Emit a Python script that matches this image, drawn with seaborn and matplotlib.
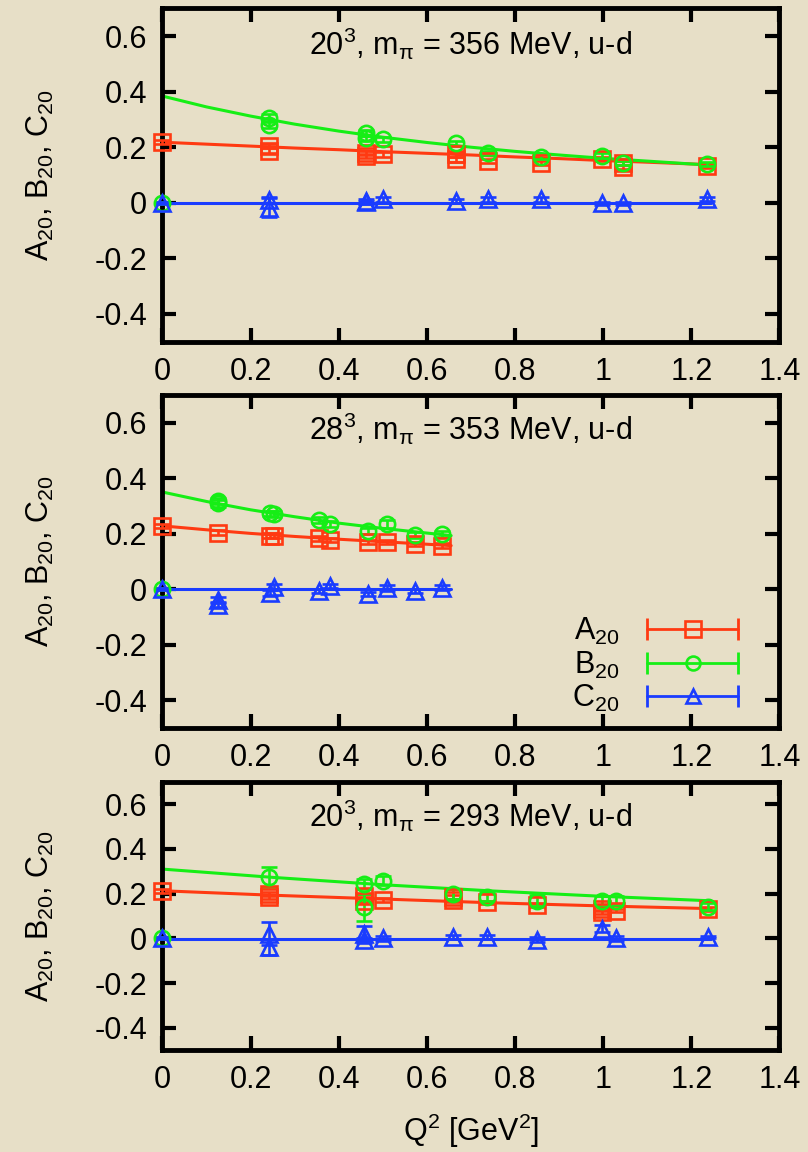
import matplotlib
matplotlib.use("Agg")
import matplotlib.pyplot as plt
import seaborn as sns
import pandas as pd
from matplotlib.lines import Line2D
from matplotlib.legend_handler import HandlerTuple, HandlerLine2D

# ---------------- data ----------------
titles = [r"20$^3$, m$_\pi$ = 356 MeV, u-d",
          r"28$^3$, m$_\pi$ = 353 MeV, u-d",
          r"20$^3$, m$_\pi$ = 293 MeV, u-d"]

# panel 1 (20^3, 356 MeV)
p1_A_x = [0, 0.241, 0.241, 0.462, 0.462, 0.500, 0.667, 0.667, 0.738, 0.860, 0.997, 1.045, 1.045, 1.236]
p1_A_y = [0.218, 0.204, 0.188, 0.180, 0.168, 0.174, 0.174, 0.156, 0.150, 0.144, 0.158, 0.144, 0.128, 0.132]
p1_A_e = [0.008, 0.008, 0.008, 0.008, 0.008, 0.008, 0.008, 0.008, 0.008, 0.008, 0.008, 0.008, 0.008, 0.008]
p1_B_x = [0, 0.241, 0.241, 0.462, 0.462, 0.500, 0.667, 0.738, 0.860, 0.997, 1.045, 1.236]
p1_B_y = [0.0, 0.306, 0.280, 0.252, 0.232, 0.228, 0.214, 0.180, 0.166, 0.170, 0.144, 0.140]
p1_B_e = [0.004, 0.012, 0.012, 0.010, 0.010, 0.010, 0.010, 0.008, 0.008, 0.008, 0.008, 0.008]
p1_C_x = [0, 0.241, 0.241, 0.462, 0.462, 0.500, 0.667, 0.738, 0.860, 0.997, 1.045, 1.236]
p1_C_y = [0.0, 0.010, -0.018, 0.005, 0.002, 0.012, 0.006, 0.012, 0.012, -0.002, -0.002, 0.014]
p1_C_e = [0.004, 0.012, 0.035, 0.008, 0.006, 0.008, 0.006, 0.008, 0.008, 0.006, 0.006, 0.008]
p1_fit_x = [0, 0.1, 0.2, 0.3, 0.4, 0.5, 0.6, 0.7, 0.8, 0.9, 1.0, 1.1, 1.245]
p1_fit_A = [0.218, 0.211, 0.204, 0.197, 0.191, 0.184, 0.178, 0.172, 0.165, 0.159, 0.152, 0.146, 0.137]
p1_fit_B = [0.384, 0.345, 0.312, 0.283, 0.258, 0.236, 0.217, 0.200, 0.185, 0.172, 0.160, 0.150, 0.135]
p1_fit_C = [0, 0, 0, 0, 0, 0, 0, 0, 0, 0, 0, 0, 0]

# panel 2 (28^3, 353 MeV)
p2_A_x = [0, 0.127, 0.245, 0.254, 0.355, 0.381, 0.467, 0.510, 0.572, 0.634]
p2_A_y = [0.228, 0.204, 0.193, 0.193, 0.183, 0.177, 0.171, 0.171, 0.163, 0.157]
p2_A_e = [0.008, 0.008, 0.008, 0.008, 0.008, 0.008, 0.008, 0.008, 0.008, 0.008]
p2_B_x = [0, 0.127, 0.127, 0.245, 0.254, 0.355, 0.381, 0.467, 0.510, 0.572, 0.634]
p2_B_y = [0.0, 0.318, 0.309, 0.273, 0.270, 0.249, 0.234, 0.210, 0.234, 0.195, 0.198]
p2_B_e = [0.004, 0.012, 0.012, 0.010, 0.010, 0.010, 0.010, 0.012, 0.014, 0.010, 0.010]
p2_C_x = [0, 0.127, 0.127, 0.245, 0.254, 0.355, 0.381, 0.467, 0.510, 0.572, 0.634]
p2_C_y = [0.0, -0.038, -0.056, -0.014, 0.008, -0.006, 0.012, -0.018, 0.004, -0.006, 0.006]
p2_C_e = [0.004, 0.010, 0.010, 0.010, 0.010, 0.008, 0.008, 0.008, 0.010, 0.006, 0.008]
p2_fit_x = [0, 0.1, 0.2, 0.3, 0.4, 0.5, 0.655]
p2_fit_A = [0.228, 0.214, 0.201, 0.190, 0.180, 0.171, 0.157]
p2_fit_B = [0.350, 0.316, 0.286, 0.261, 0.238, 0.219, 0.193]
p2_fit_C = [0, 0, 0, 0, 0, 0, 0]

# panel 3 (20^3, 293 MeV)
p3_A_x = [0, 0.241, 0.241, 0.457, 0.457, 0.500, 0.659, 0.659, 0.737, 0.849, 0.997, 0.997, 1.029, 1.237]
p3_A_y = [0.213, 0.199, 0.184, 0.191, 0.169, 0.172, 0.185, 0.170, 0.161, 0.150, 0.117, 0.132, 0.124, 0.132]
p3_A_e = [0.008, 0.008, 0.008, 0.008, 0.008, 0.008, 0.008, 0.008, 0.008, 0.008, 0.008, 0.008, 0.008, 0.008]
p3_B_x = [0, 0.241, 0.457, 0.457, 0.500, 0.659, 0.737, 0.849, 0.997, 1.029, 1.237]
p3_B_y = [0.0, 0.275, 0.243, 0.139, 0.258, 0.199, 0.187, 0.169, 0.169, 0.169, 0.142]
p3_B_e = [0.004, 0.045, 0.022, 0.060, 0.020, 0.022, 0.020, 0.025, 0.020, 0.020, 0.015]
p3_C_x = [0, 0.241, 0.241, 0.457, 0.457, 0.500, 0.659, 0.737, 0.849, 0.997, 1.029, 1.237]
p3_C_y = [0.0, 0.021, -0.039, 0.021, -0.009, 0.000, 0.006, 0.006, -0.006, 0.043, 0.000, 0.006]
p3_C_e = [0.004, 0.050, 0.035, 0.035, 0.010, 0.010, 0.010, 0.010, 0.010, 0.015, 0.010, 0.006]
p3_fit_x = [0, 0.25, 0.5, 0.75, 1.0, 1.245]
p3_fit_A = [0.213, 0.193, 0.176, 0.159, 0.145, 0.133]
p3_fit_B = [0.310, 0.273, 0.240, 0.212, 0.188, 0.168]
p3_fit_C = [-0.005, -0.005, -0.005, -0.005, -0.005, -0.005]

series_labels = [r"A$_{20}$", r"B$_{20}$", r"C$_{20}$"]
x_ticks = [0, 0.2, 0.4, 0.6, 0.8, 1.0, 1.2, 1.4]
x_tick_labels = ["0", "0.2", "0.4", "0.6", "0.8", "1", "1.2", "1.4"]
y_ticks = [-0.4, -0.2, 0, 0.2, 0.4, 0.6]
y_tick_labels = ["-0.4", "-0.2", "0", "0.2", "0.4", "0.6"]

# ---------------- style ----------------
sns.set_theme(style="ticks")
BG = "#e7dfc7"
plt.rcParams["font.family"] = ["Liberation Sans", "DejaVu Sans"]
plt.rcParams["mathtext.fontset"] = "custom"
plt.rcParams["mathtext.rm"] = "Liberation Sans"
plt.rcParams["mathtext.it"] = "Liberation Sans"
plt.rcParams["mathtext.bf"] = "Liberation Sans:bold"
plt.rcParams["text.color"] = "black"
plt.rcParams["axes.labelcolor"] = "black"
plt.rcParams["xtick.color"] = "black"
plt.rcParams["ytick.color"] = "black"

colors = ["#ff3a12", "#16ee16", "#1a3cff"]
markers = ["s", "o", "^"]
msizes = [12, 11, 11.5]
FS = 22

fig = plt.figure(figsize=(8.08, 11.52), dpi=100, facecolor=BG)
positions = [[0.2011, 0.7034, 0.7636, 0.2894],
             [0.2011, 0.3681, 0.7636, 0.2891],
             [0.2011, 0.0885, 0.7636, 0.2327]]
title_y = [0.895, 0.898, 0.875]

panels = [
    (p1_A_x, p1_A_y, p1_A_e, p1_B_x, p1_B_y, p1_B_e, p1_C_x, p1_C_y, p1_C_e,
     p1_fit_x, p1_fit_A, p1_fit_B, p1_fit_C),
    (p2_A_x, p2_A_y, p2_A_e, p2_B_x, p2_B_y, p2_B_e, p2_C_x, p2_C_y, p2_C_e,
     p2_fit_x, p2_fit_A, p2_fit_B, p2_fit_C),
    (p3_A_x, p3_A_y, p3_A_e, p3_B_x, p3_B_y, p3_B_e, p3_C_x, p3_C_y, p3_C_e,
     p3_fit_x, p3_fit_A, p3_fit_B, p3_fit_C),
]

axes = []
for i, p in enumerate(panels):
    ax = fig.add_axes(positions[i])
    ax.set_facecolor(BG)
    axes.append(ax)
    pts = [(p[0], p[1], p[2]), (p[3], p[4], p[5]), (p[6], p[7], p[8])]
    fx = p[9]
    fits = [p[10], p[11], p[12]]
    # fit curves
    for k in range(3):
        df = pd.DataFrame({"Q2": fx, "val": fits[k]})
        sns.lineplot(data=df, x="Q2", y="val", ax=ax, color=colors[k], lw=2.2,
                     legend=False, zorder=2)
    # data points
    for k in range(3):
        x, y, e = pts[k]
        ax.errorbar(x, y, yerr=e, fmt=markers[k], ms=msizes[k], mfc="none",
                    mec=colors[k], mew=1.9, ecolor=colors[k], elinewidth=1.9,
                    capsize=6, capthick=1.9, zorder=3, clip_on=False)
    ax.set_xlim(0, 1.4)
    ax.set_ylim(-0.5, 0.7)
    ax.set_xticks(x_ticks)
    ax.set_xticklabels(x_tick_labels)
    ax.set_yticks(y_ticks)
    ax.set_yticklabels(y_tick_labels)
    ax.set_xlabel("")
    ax.set_ylabel(r"A$_{20}$, B$_{20}$, C$_{20}$", fontsize=FS, labelpad=28,
                  color="black")
    ax.tick_params(direction="in", length=10, width=3, top=True, right=True,
                   labelsize=FS, colors="black", pad=11)
    for s in ax.spines.values():
        s.set_linewidth(3.5)
        s.set_color("black")
        s.set_visible(True)
    ax.text(0.5, title_y[i], titles[i], transform=ax.transAxes, ha="center",
            va="center", fontsize=FS, color="black")

axes[2].set_xlabel(r"Q$^2$ [GeV$^2$]", fontsize=FS, labelpad=12, color="black")

# legend in middle panel
ax = axes[1]
handles = []
hmap = {}
for k in range(3):
    bar = Line2D([], [], color=colors[k], lw=2, marker="|", ms=16, mew=2)
    mk = Line2D([], [], color=colors[k], lw=0, marker=markers[k], ms=msizes[k] - 1,
                mfc="none", mec=colors[k], mew=1.9)
    hmap[mk] = HandlerLine2D(numpoints=1)
    handles.append((bar, mk))
hmap[tuple] = HandlerTuple(ndivide=1, pad=0)
leg = ax.legend(handles, series_labels, handler_map=hmap, loc="lower right",
                bbox_to_anchor=(0.968, 0.005), frameon=False, fontsize=FS,
                numpoints=2, markerfirst=False, handlelength=3.6,
                handletextpad=0.6, labelspacing=0.08, borderaxespad=0)
for t in leg.get_texts():
    t.set_color("black")

fig.savefig("out.png", dpi=100, facecolor=BG)
